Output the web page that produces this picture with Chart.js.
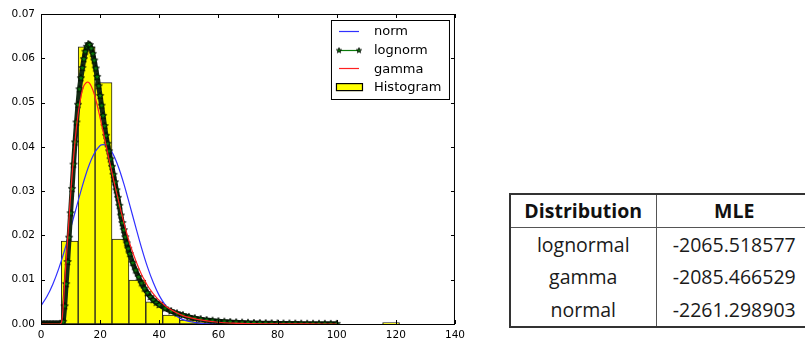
<!DOCTYPE html>
<html>
<head>
<meta charset="utf-8">
<script src="https://cdn.jsdelivr.net/npm/chart.js@4.4.1/dist/chart.umd.min.js"></script>
<style>
  html, body { margin: 0; padding: 0; background: #fff; width: 805px; height: 343px; overflow: hidden; }
  #plot { position: absolute; left: 0; top: 0; }
  #mle {
    position: absolute; left: 509px; top: 193px; width: 305px;
    border-collapse: collapse; table-layout: fixed;
    font-family: "Open Sans", sans-serif; font-size: 19.5px; color: #1a1a1a;
    border: 2px solid #333;
  }
  #mle th, #mle td { border: 1px solid #555; text-align: center; padding: 0; line-height: 1; }
  #mle th { height: 32px; font-weight: bold; color: #111; }
  #mle td { height: 32.5px; border-top: none; border-bottom: none; }
  #mle col.c1 { width: 146px; }
</style>
</head>
<body>
<canvas id="plot" width="470" height="343"></canvas>
<table id="mle">
  <colgroup><col class="c1"><col></colgroup>
  <thead id="mleHead"></thead>
  <tbody id="mleBody"></tbody>
</table>
<script>
// histogram (density) - bin edges and bar heights
var histEdges = [6.85, 12.57, 18.29, 24.01, 29.73, 35.45, 41.17, 46.89, 52.61, 58.33, 64.05,
                 69.77, 75.49, 81.21, 86.93, 92.65, 98.37, 104.09, 109.81, 115.53, 121.25];
var histHeights = [0.0187, 0.0626, 0.0545, 0.0192, 0.0099, 0.0050, 0.0020, 0.0009, 0.0005, 0.0003,
                   0.0002, 0.0002, 0.0001, 0.0001, 0.0001, 0.0001, 0, 0, 0, 0.0003];

// fitted curves
var normX = [0, 2, 4, 6, 8, 10, 12, 14, 16, 18, 20, 21, 22, 24, 26, 28, 30, 32, 34, 36, 38, 40,
             42, 44, 46, 48, 50, 55, 60, 70, 80, 100];
var normY = [0.0041, 0.0062, 0.0090, 0.0125, 0.0167, 0.0215, 0.0264, 0.0312, 0.0354, 0.0385, 0.0403, 0.0405,
             0.0403, 0.0388, 0.0358, 0.0317, 0.0269, 0.0220, 0.0172, 0.0129, 0.0093, 0.0064,
             0.0043, 0.0027, 0.0017, 0.0010, 0.0006, 0.0001, 0.00002, 0, 0, 0];

var lognormX = [0, 0.5, 1, 1.5, 2, 2.5, 3, 3.5, 4, 4.5, 5, 5.5, 6, 6.5, 7, 7.5, 8, 8.5, 9, 9.5,
                10, 10.5, 11, 11.5, 12, 12.5, 13, 13.5, 14, 14.5, 15, 15.5, 16, 16.5, 17, 17.5,
                18, 18.5, 19, 19.5, 20, 20.5, 21, 21.5, 22, 22.5, 23, 23.5, 24, 24.5, 25, 25.5,
                26, 26.5, 27, 27.5, 28, 28.5, 29, 29.5, 30, 31, 32, 33, 34, 35, 36, 37, 38, 39, 40,
                42, 44, 46, 48, 50, 52, 54, 56, 58, 60, 62, 64, 66, 68, 70, 72, 74, 76, 78, 80,
                82, 84, 86, 88, 90, 92, 94, 96, 98, 100];
var lognormY = [0, 0, 0, 0, 0, 0, 0, 0, 0, 0, 0, 0, 0, 0, 0, 0.0005, 0.004, 0.009, 0.014, 0.0195,
                0.025, 0.0305, 0.036, 0.041, 0.0455, 0.0495, 0.053, 0.0555, 0.0578, 0.0598, 0.0615, 0.0626, 0.0632, 0.0630, 0.0622, 0.0610,
                0.0595, 0.0577, 0.0558, 0.0537, 0.0515, 0.0493, 0.0470, 0.0447, 0.0425, 0.0407, 0.0390, 0.0372, 0.0355, 0.0337, 0.0320, 0.0302,
                0.0285, 0.0267, 0.0245, 0.0228, 0.0212, 0.0196, 0.0182, 0.0170, 0.0158, 0.0138, 0.0121, 0.0106, 0.0092, 0.0080, 0.0070, 0.0061, 0.0054, 0.0048, 0.0043,
                0.0035, 0.0029, 0.0024, 0.0020, 0.0016, 0.0013, 0.0011, 0.0009, 0.00075, 0.00063, 0.00053, 0.00045, 0.00038, 0.00032, 0.00027, 0.00023, 0.0002, 0.00017, 0.00015, 0.00013,
                0.00011, 0.0001, 0.00009, 0.00008, 0.00007, 0.00006, 0.00005, 0.00005, 0.00004, 0.00004];

var gammaX = [0, 1, 2, 3, 4, 5, 6, 6.5, 7, 7.5, 8, 8.5, 9, 9.5, 10, 10.5, 11, 11.5, 12, 12.5, 13, 13.5,
              14, 14.5, 15, 15.5, 16, 16.5, 17, 17.5, 18, 18.5, 19, 20, 21, 22, 23, 24, 25, 26, 27, 28,
              29, 30, 31, 32, 33, 34, 35, 36, 37, 38, 39, 40, 42, 44, 46, 48, 50, 55, 60, 65, 70, 80, 90, 100];
var gammaY = [0, 0, 0, 0, 0, 0, 0, 0, 0.0005, 0.004, 0.0095, 0.0145, 0.019, 0.024, 0.029, 0.0335, 0.0375, 0.0412, 0.0445, 0.0472, 0.0495, 0.0513,
              0.0528, 0.0538, 0.0543, 0.0546, 0.0546, 0.0543, 0.0537, 0.0529, 0.0519, 0.0507, 0.0494, 0.0465, 0.0435, 0.0403, 0.0372, 0.0342, 0.0312, 0.0284, 0.0256, 0.0230,
              0.0205, 0.0182, 0.0162, 0.0144, 0.0127, 0.0112, 0.0099, 0.0087, 0.0077, 0.0068, 0.0060, 0.0053, 0.0041, 0.0032, 0.0025, 0.0019, 0.0015, 0.0008, 0.0004, 0.0002, 0.0001, 0.00003, 0.00001, 0];

// axis ticks
var xTicks = [0, 20, 40, 60, 80, 100, 120, 140];
var yTicks = [0, 0.01, 0.02, 0.03, 0.04, 0.05, 0.06, 0.07];

// MLE table
var mleHeader = ["Distribution", "MLE"];
var mleNames = ["lognormal", "gamma", "normal"];
var mleValues = ["-2065.518577", "-2085.466529", "-2261.298903"];

function $id(id) { return document.getElementById(id); }

$id("mleHead").innerHTML = "<tr><th>" + mleHeader[0] + "</th><th>" + mleHeader[1] + "</th></tr>";
var bodyHtml = "";
for (var i = 0; i < mleNames.length; i++) {
    bodyHtml += "<tr><td>" + mleNames[i] + "</td><td>" + mleValues[i] + "</td></tr>";
}
$id("mleBody").innerHTML = bodyHtml;

function pairs(xs, ys) {
    return xs.map(function (x, i) { return {x: x, y: ys[i]}; });
}

var histData = histHeights.map(function (h, i) {
    return {x: (histEdges[i] + histEdges[i + 1]) / 2, y: h};
});

var NORM_COLOR = '#3030ff', LOG_COLOR = '#0b7a0b', GAMMA_COLOR = '#ff2020';

function starMarker(r) {
    var c = document.createElement('canvas');
    var s = Math.ceil(r * 2 + 2);
    c.width = c.height = s;
    var g = c.getContext('2d');
    g.beginPath();
    for (var k = 0; k < 10; k++) {
        var a = -Math.PI / 2 + k * Math.PI / 5;
        var rr = k % 2 ? r * 0.42 : r;
        g.lineTo(s / 2 + rr * Math.cos(a), s / 2 + rr * Math.sin(a));
    }
    g.closePath();
    g.fillStyle = LOG_COLOR;
    g.fill();
    g.strokeStyle = '#000';
    g.lineWidth = 0.8;
    g.stroke();
    return c;
}
var star = starMarker(3.8);

var FONT = '"DejaVu Sans", sans-serif';

// matplotlib-like frame, inward ticks and legend box
var mplFrame = {
    id: 'mplFrame',
    afterDraw: function (chart) {
        var ctx = chart.ctx, a = chart.chartArea;
        var xs = chart.scales.x, ys = chart.scales.y;
        ctx.save();
        ctx.strokeStyle = '#000';
        ctx.lineWidth = 1;
        ctx.strokeRect(a.left + 0.5, a.top + 0.5, a.right - a.left - 1, a.bottom - a.top);
        ctx.beginPath();
        xTicks.forEach(function (v) {
            var px = Math.round(xs.getPixelForValue(v)) + 0.5;
            ctx.moveTo(px, a.bottom); ctx.lineTo(px, a.bottom - 4);
            ctx.moveTo(px, a.top); ctx.lineTo(px, a.top + 4);
        });
        yTicks.forEach(function (v) {
            var py = Math.round(ys.getPixelForValue(v)) + 0.5;
            ctx.moveTo(a.left, py); ctx.lineTo(a.left + 4, py);
            ctx.moveTo(a.right, py); ctx.lineTo(a.right - 4, py);
        });
        ctx.stroke();

        // legend
        var L = a.right - 124, T = a.top + 6, W = 118, H = 79;
        ctx.fillStyle = '#fff';
        ctx.fillRect(L, T, W, H);
        ctx.strokeRect(L + 0.5, T + 0.5, W, H);
        var entries = [
            {name: 'norm', color: NORM_COLOR},
            {name: 'lognorm', color: LOG_COLOR, star: true},
            {name: 'gamma', color: GAMMA_COLOR},
            {name: 'Histogram', patch: '#ffff00'}
        ];
        ctx.font = '13px ' + FONT;
        ctx.textBaseline = 'middle';
        entries.forEach(function (e, i) {
            var cy = T + 11 + i * 18.7;
            if (e.patch) {
                ctx.fillStyle = e.patch;
                ctx.fillRect(L + 5, cy - 4, 27, 8);
                ctx.strokeStyle = '#000';
                ctx.strokeRect(L + 5.5, cy - 3.5, 26, 7);
            } else {
                ctx.strokeStyle = e.color;
                ctx.lineWidth = 1.2;
                ctx.beginPath();
                ctx.moveTo(L + 8, Math.round(cy) + 0.5); ctx.lineTo(L + 28, Math.round(cy) + 0.5);
                ctx.stroke();
                if (e.star) {
                    var sm = starMarker(2.8);
                    ctx.drawImage(sm, L + 8 - sm.width / 2, Math.round(cy) - sm.height / 2 + 0.5);
                    ctx.drawImage(sm, L + 28 - sm.width / 2, Math.round(cy) - sm.height / 2 + 0.5);
                }
            }
            ctx.fillStyle = '#000';
            ctx.fillText(e.name, L + 43, cy + 1);
        });
        ctx.restore();
    }
};

new Chart($id('plot'), {
    type: 'bar',
    data: {
        datasets: [
            {
                type: 'line', label: 'norm', data: pairs(normX, normY),
                borderColor: NORM_COLOR, borderWidth: 1.2, pointRadius: 0, tension: 0.3, clip: 0, order: 3
            },
            {
                type: 'line', label: 'lognorm', data: pairs(lognormX, lognormY),
                borderColor: '#142a14', borderWidth: 5, pointStyle: star, pointRadius: 3.8,
                tension: 0.2, clip: 0, order: 2
            },
            {
                type: 'line', label: 'gamma', data: pairs(gammaX, gammaY),
                borderColor: GAMMA_COLOR, borderWidth: 1.2, pointRadius: 0, tension: 0.3, clip: 0, order: 1
            },
            {
                type: 'bar', label: 'Histogram', data: histData,
                backgroundColor: '#ffff00', borderColor: '#222', borderWidth: 1, borderSkipped: false,
                barPercentage: 1, categoryPercentage: 1, clip: 0, order: 10
            }
        ]
    },
    options: {
        responsive: false,
        devicePixelRatio: 1,
        animation: false,
        layout: { padding: { top: 14, right: 15, left: 0, bottom: 0 } },
        plugins: { legend: { display: false }, tooltip: { enabled: false } },
        scales: {
            x: {
                type: 'linear', min: 0, max: 140, offset: false,
                grid: { display: false, drawTicks: false },
                border: { display: false },
                afterBuildTicks: function (s) { s.ticks = xTicks.map(function (v) { return {value: v}; }); },
                ticks: { padding: 5, color: '#000', font: { family: FONT, size: 10.5 }, maxRotation: 0,
                         callback: function (v) { return String(v); } },
                afterFit: function (s) { s.height = 19; }
            },
            y: {
                min: 0, max: 0.07,
                grid: { display: false, drawTicks: false },
                border: { display: false },
                afterBuildTicks: function (s) { s.ticks = yTicks.map(function (v) { return {value: v}; }); },
                ticks: { padding: 6, color: '#000', font: { family: FONT, size: 10.5 },
                         callback: function (v) { return Number(v).toFixed(2); } },
                afterFit: function (s) { s.width = 41; }
            }
        }
    },
    plugins: [mplFrame]
});
</script>
</body>
</html>
